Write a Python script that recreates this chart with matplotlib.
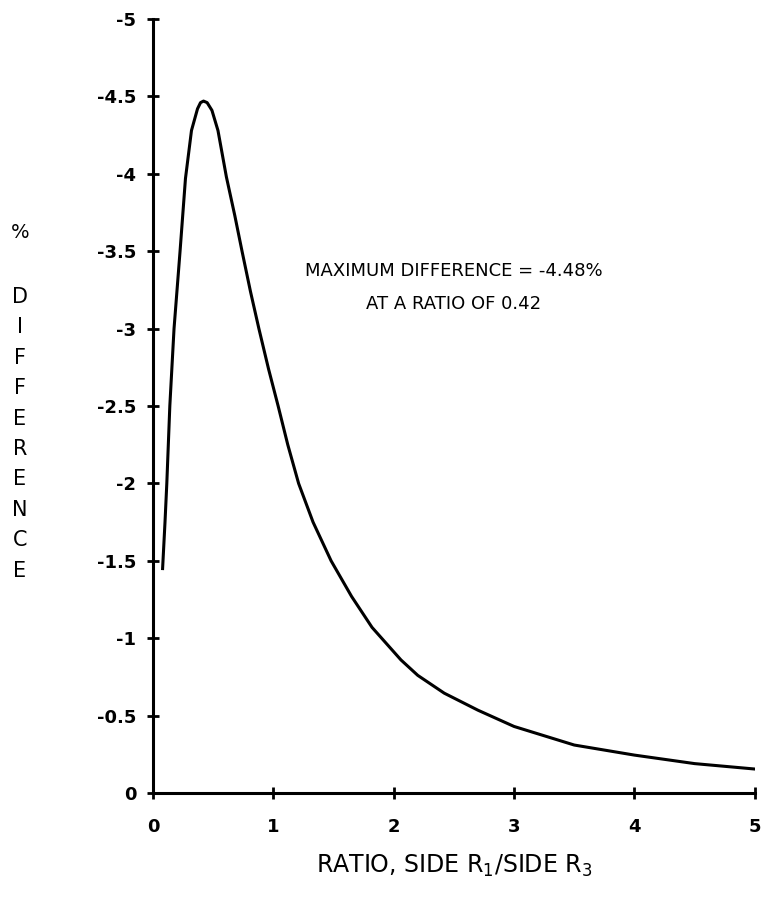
import numpy as np
import matplotlib
matplotlib.use("Agg")
import matplotlib.pyplot as plt

plt.rcParams["mathtext.default"] = "regular"

# curve: ratio vs % difference
ratio = [0.08, 0.10, 0.115, 0.14, 0.175, 0.225, 0.27, 0.32, 0.37, 0.395, 0.42,
         0.45, 0.49, 0.54, 0.61, 0.68, 0.74, 0.81, 0.88, 0.96, 1.04, 1.12,
         1.21, 1.33, 1.48, 1.65, 1.82, 2.06, 2.2, 2.42, 2.7, 3.0, 3.5, 4.0,
         4.5, 5.0]
diff = [-1.45, -1.75, -2.0, -2.5, -3.0, -3.5, -3.97, -4.28, -4.42, -4.46, -4.47,
        -4.46, -4.41, -4.28, -3.98, -3.73, -3.5, -3.24, -3.0, -2.74, -2.5, -2.25,
        -2.0, -1.75, -1.5, -1.27, -1.07, -0.86, -0.76, -0.645, -0.535, -0.43,
        -0.31, -0.245, -0.19, -0.155]

xticks = [0, 1, 2, 3, 4, 5]
xticklabels = ["0", "1", "2", "3", "4", "5"]
yticks = [-5, -4.5, -4, -3.5, -3, -2.5, -2, -1.5, -1, -0.5, 0]
yticklabels = ["-5", "-4.5", "-4", "-3.5", "-3", "-2.5", "-2", "-1.5", "-1", "-0.5", "0"]
ylabel_chars = ["%", "D", "I", "F", "F", "E", "R", "E", "N", "C", "E"]

fig = plt.figure(figsize=(7.71, 8.98), dpi=100)
ax = fig.add_axes([0.1984, 0.1169, 0.7806, 0.8619])

ax.plot(ratio, diff, color="black", lw=2.2, solid_joinstyle="round")

ax.set_xlim(0, 5)
ax.set_ylim(0, -5)
for s in ["top", "right"]:
    ax.spines[s].set_visible(False)
for s in ["left", "bottom"]:
    ax.spines[s].set_linewidth(2.2)
    ax.spines[s].set_color("black")

ax.set_xticks(xticks)
ax.set_xticklabels(xticklabels, fontsize=13, fontweight="bold")
ax.set_yticks(yticks)
ax.set_yticklabels(yticklabels, fontsize=13, fontweight="bold")
ax.tick_params(axis="x", direction="inout", length=8, width=2, pad=14)
ax.tick_params(axis="y", direction="inout", length=8, width=2, pad=8)

ax.set_xlabel("RATIO, SIDE R$_1$/SIDE R$_3$", fontsize=17, labelpad=12)

ax.text(2.5, -3.37, "MAXIMUM DIFFERENCE = -4.48%", fontsize=13,
        ha="center", va="center")
ax.text(2.5, -3.16, "AT A RATIO OF 0.42", fontsize=13,
        ha="center", va="center")

# stacked vertical y label
fig.text(20 / 771, 1 - 233 / 898, ylabel_chars[0], fontsize=14,
         ha="center", va="center")
for i, ch in enumerate(ylabel_chars[1:]):
    fig.text(20 / 771, 1 - (297 + 30.4 * i) / 898, ch, fontsize=15,
             ha="center", va="center")

fig.savefig("out.png", dpi=100)
